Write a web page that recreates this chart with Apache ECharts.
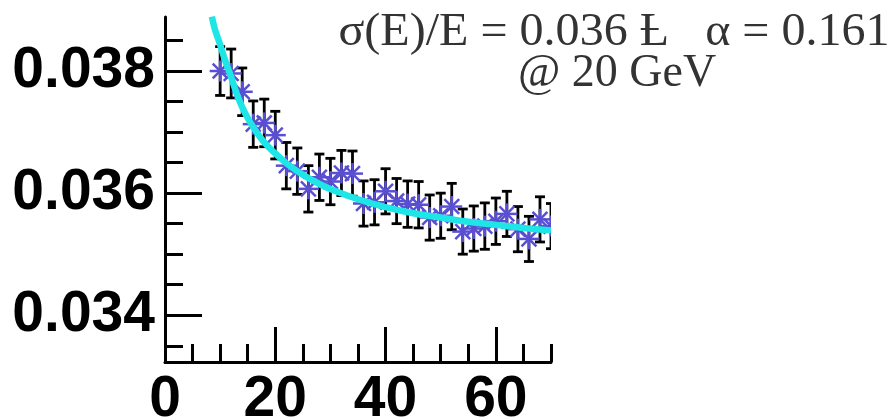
<!DOCTYPE html>
<html>
<head>
<meta charset="utf-8">
<style>
  html, body { margin: 0; padding: 0; background: #ffffff; }
  #chart { width: 895px; height: 420px; }
</style>
<script src="https://cdn.jsdelivr.net/npm/echarts@6/dist/echarts.min.js"></script>
</head>
<body>
<div id="chart"></div>
<script>
// Beam energy points (GeV) and measured relative resolution with errors
const energy = [10, 12, 14, 16, 18, 20, 22, 24, 26, 28, 30, 32, 34, 36, 38, 40,
                42, 44, 46, 48, 50, 52, 54, 56, 58, 60, 62, 64, 66, 68, 70];
const resolution = [0.03800, 0.03796, 0.03766, 0.03713, 0.03715, 0.03695, 0.03645, 0.03636,
                    0.03607, 0.03626, 0.03619, 0.03633, 0.03632, 0.03583, 0.03585, 0.03603,
                    0.03587, 0.03582, 0.03581, 0.03560, 0.03563, 0.03578, 0.03537, 0.03542,
                    0.03546, 0.03554, 0.03566, 0.03541, 0.03525, 0.03557, 0.03546];
const resolutionErr = [0.00040, 0.00040, 0.00039, 0.00038, 0.00039, 0.00039, 0.00038, 0.00038,
                       0.00038, 0.00038, 0.00038, 0.00037, 0.00037, 0.00037, 0.00037, 0.00037,
                       0.00037, 0.00038, 0.00038, 0.00037, 0.00037, 0.00038, 0.00037, 0.00037,
                       0.00038, 0.00038, 0.00037, 0.00037, 0.00037, 0.00037, 0.00037];

// Fitted resolution curve
const fitEnergy = [8.5, 9, 10, 11, 12, 13, 14, 15, 16, 18, 20, 22, 25, 28, 31, 35, 40, 45, 50, 55, 60, 65, 70];
const fitResolution = [0.03889, 0.03870, 0.03843, 0.03815, 0.03790, 0.03763, 0.03741, 0.03723,
                       0.03708, 0.03683, 0.03665, 0.03649, 0.03630, 0.03615, 0.03603, 0.03590,
                       0.03577, 0.03567, 0.03560, 0.03553, 0.03548, 0.03543, 0.03539];

// Axis ticks
const yMajorTicks = [0.034, 0.036, 0.038];
const yMinorTicks = [0.0335, 0.0345, 0.035, 0.0355, 0.0365, 0.037, 0.0375, 0.0385];
const xMajorTicks = [0, 20, 40, 60];
const xMinorTicks = [5, 10, 15, 25, 30, 35, 45, 50, 55, 65, 70];

// Annotation text
const fitLine1 = 'σ(E)/E = 0.036 Ƚ   α = 0.161';
const fitLine2 = '@ 20 GeV';

const Y_MIN = 0.033234, Y_MAX = 0.038885;
const X_MIN = 0, X_MAX = 70;

const chart = echarts.init(document.getElementById('chart'), null, { renderer: 'canvas' });

const labelFont = { fontFamily: 'Liberation Sans', fontWeight: 'bold', fontSize: 57, color: '#000' };
const axisLineStyle = { color: '#000', width: 3 };

const points = energy.map((e, i) => [e, resolution[i], resolutionErr[i]]);
const fitData = fitEnergy.map((e, i) => [e, fitResolution[i]]);

chart.setOption({
  animation: false,
  backgroundColor: '#ffffff',
  grid: { left: 165, right: 344, top: 17, bottom: 58, containLabel: false, outerBoundsMode: 'none' },
  xAxis: [
    {
      type: 'value', min: X_MIN, max: X_MAX, position: 'bottom',
      axisLine: { show: true, onZero: false, lineStyle: axisLineStyle },
      axisTick: { show: true, inside: true, length: 35, customValues: xMajorTicks, lineStyle: { color: '#000', width: 3 } },
      axisLabel: Object.assign({ customValues: xMajorTicks, margin: 10, formatter: v => String(v) }, labelFont),
      splitLine: { show: false }
    },
    {
      type: 'value', min: X_MIN, max: X_MAX, position: 'bottom',
      axisLine: { show: false },
      axisTick: { show: true, inside: true, length: 18, customValues: xMinorTicks, lineStyle: { color: '#000', width: 3 } },
      axisLabel: { show: false },
      splitLine: { show: false }
    }
  ],
  yAxis: [
    {
      type: 'value', min: Y_MIN, max: Y_MAX, position: 'left',
      axisLine: { show: true, onZero: false, lineStyle: axisLineStyle },
      axisTick: { show: true, inside: true, length: 37, customValues: yMajorTicks, lineStyle: { color: '#000', width: 3 } },
      axisLabel: Object.assign({ customValues: yMajorTicks, margin: 10, padding: [14, 0, 0, 0], formatter: v => v.toFixed(3) }, labelFont),
      splitLine: { show: false }
    },
    {
      type: 'value', min: Y_MIN, max: Y_MAX, position: 'left',
      axisLine: { show: false },
      axisTick: { show: true, inside: true, length: 18, customValues: yMinorTicks, lineStyle: { color: '#000', width: 3 } },
      axisLabel: { show: false },
      splitLine: { show: false }
    }
  ],
  series: [
    {
      // error bars with end caps
      type: 'custom',
      name: 'errors',
      clip: true,
      z: 2,
      data: points,
      renderItem: function (params, api) {
        const x = api.value(0), y = api.value(1), e = api.value(2);
        const top = api.coord([x, y + e]);
        const bot = api.coord([x, y - e]);
        const cap = 5;
        const style = { stroke: '#000', lineWidth: 2.8 };
        return {
          type: 'group',
          children: [
            { type: 'line', shape: { x1: top[0], y1: top[1], x2: bot[0], y2: bot[1] }, style: style },
            { type: 'line', shape: { x1: top[0] - cap, y1: top[1], x2: top[0] + cap, y2: top[1] }, style: style },
            { type: 'line', shape: { x1: bot[0] - cap, y1: bot[1], x2: bot[0] + cap, y2: bot[1] }, style: style }
          ]
        };
      }
    },
    {
      // asterisk markers
      type: 'custom',
      name: 'points',
      clip: true,
      z: 3,
      data: points,
      renderItem: function (params, api) {
        const c = api.coord([api.value(0), api.value(1)]);
        const r = 10.5;
        const d = r * Math.SQRT1_2;
        const style = { stroke: '#5a4fd2', lineWidth: 2.5 };
        return {
          type: 'group',
          children: [
            { type: 'line', shape: { x1: c[0] - r, y1: c[1], x2: c[0] + r, y2: c[1] }, style: style },
            { type: 'line', shape: { x1: c[0], y1: c[1] - r, x2: c[0], y2: c[1] + r }, style: style },
            { type: 'line', shape: { x1: c[0] - d, y1: c[1] - d, x2: c[0] + d, y2: c[1] + d }, style: style },
            { type: 'line', shape: { x1: c[0] - d, y1: c[1] + d, x2: c[0] + d, y2: c[1] - d }, style: style }
          ]
        };
      }
    },
    {
      type: 'line',
      name: 'fit',
      data: fitData,
      smooth: 0.4,
      showSymbol: false,
      clip: true,
      z: 4,
      lineStyle: { color: '#1ee6e6', width: 6.5 }
    }
  ],
  graphic: [
    {
      type: 'text', x: 614, y: 33, z: 10, scaleX: 1.045,
      style: { text: fitLine1, fill: '#333', font: '46px "Liberation Serif"', align: 'center', verticalAlign: 'middle' }
    },
    {
      type: 'text', x: 617, y: 74, z: 10,
      style: { text: fitLine2, fill: '#333', font: '46px "Liberation Serif"', align: 'center', verticalAlign: 'middle' }
    }
  ]
});
</script>
</body>
</html>
